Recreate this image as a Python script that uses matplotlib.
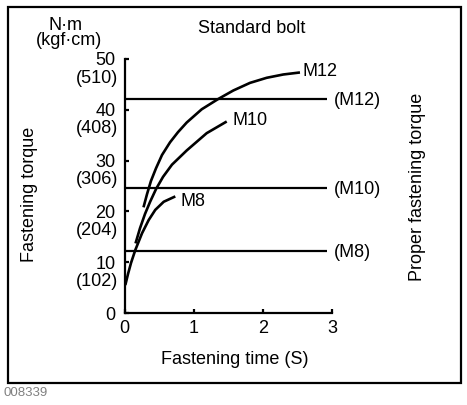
import matplotlib
matplotlib.use("Agg")
import matplotlib.pyplot as plt
from matplotlib.patches import Rectangle

plt.rcParams['font.family'] = ['Liberation Sans', 'DejaVu Sans']

# ---- data ----
m12_t = [0.274, 0.325, 0.382, 0.455, 0.541, 0.657, 0.772, 0.898, 1.114, 1.349, 1.570, 1.811, 2.052, 2.291, 2.532]
m12_v = [20.8, 23.4, 26.0, 28.5, 31.1, 33.6, 35.6, 37.5, 40.1, 42.1, 43.8, 45.3, 46.3, 46.95, 47.35]
m10_t = [0.159, 0.224, 0.296, 0.368, 0.455, 0.556, 0.685, 0.898, 1.186, 1.475]
m10_v = [13.7, 16.7, 19.5, 21.85, 24.4, 26.8, 29.2, 32.0, 35.4, 37.7]
m8_t = [0.012, 0.051, 0.094, 0.156, 0.253, 0.349, 0.444, 0.566, 0.733]
m8_v = [5.5, 7.7, 9.85, 12.4, 15.7, 18.3, 20.3, 21.9, 22.95]
curve_names = ["M12", "M10", "M8"]

proper_names = ["(M12)", "(M10)", "(M8)"]
proper_values = [42.1, 24.7, 12.3]
proper_end = 2.92

y_ticks = [0, 10, 20, 30, 40, 50]
y_labels_nm = ["0", "10", "20", "30", "40", "50"]
y_labels_kgf = ["", "(102)", "(204)", "(306)", "(408)", "(510)"]
x_ticks = [0, 1, 2, 3]
x_labels = ["0", "1", "2", "3"]

W, H = 467, 405
FS = 13

fig = plt.figure(figsize=(W / 100, H / 100), dpi=100)

def fx(px):
    return px / W

def fy(py):
    return 1 - py / H

ax = fig.add_axes([fx(124.5), fy(313), 3 * 69.3 / W, (313 - 59) / H])
ax.set_xlim(0, 3)
ax.set_ylim(0, 50)
for s in ["top", "right"]:
    ax.spines[s].set_visible(False)
for s in ["left", "bottom"]:
    ax.spines[s].set_linewidth(1.6)
    ax.spines[s].set_color("black")

ax.set_xticks(x_ticks)
ax.set_xticklabels(x_labels, fontsize=FS)
ax.set_yticks(y_ticks)
ax.set_yticklabels(y_labels_nm, fontsize=FS)
ax.tick_params(axis="both", direction="in", length=3, width=1.6, color="black")
ax.tick_params(axis="x", pad=5)
ax.tick_params(axis="y", pad=6.5)

for v, lab in zip(y_ticks, y_labels_kgf):
    if lab:
        ax.annotate(lab, xy=(0, v), xytext=(-4.5, -13.7), textcoords="offset points",
                    ha="right", va="center", fontsize=FS, annotation_clip=False)

curves = [(m12_t, m12_v), (m10_t, m10_v), (m8_t, m8_v)]
label_offsets = [(2, 0.5), (4, 0.5), (3.5, -3.5)]
for (t, v), name, off in zip(curves, curve_names, label_offsets):
    ax.plot(t, v, color="black", lw=1.9, solid_capstyle="butt", solid_joinstyle="round", clip_on=False)
    ax.annotate(name, xy=(t[-1], v[-1]), xytext=off, textcoords="offset points",
                ha="left", va="center", fontsize=FS, annotation_clip=False)

for name, val in zip(proper_names, proper_values):
    ax.plot([0, proper_end], [val, val], color="black", lw=1.6, solid_capstyle="butt", clip_on=False)
    ax.annotate(name, xy=(proper_end, val), xytext=(5, -1.2), textcoords="offset points",
                ha="left", va="center", fontsize=FS, annotation_clip=False)

fig.text(fx(66), fy(25), "N·m", ha="center", va="center", fontsize=FS)
fig.text(fx(69), fy(40.5), "(kgf·cm)", ha="center", va="center", fontsize=FS)
fig.text(fx(252), fy(28.5), "Standard bolt", ha="center", va="center", fontsize=FS)
fig.text(fx(29), fy(194), "Fastening torque", ha="center", va="center", rotation=90, fontsize=FS)
fig.text(fx(235), fy(360), "Fastening time (S)", ha="center", va="center", fontsize=FS)
fig.text(fx(418), fy(187), "Proper fastening torque", ha="center", va="center", rotation=90, fontsize=FS)
fig.text(fx(3), fy(393), "008339", ha="left", va="center", fontsize=9.5, color="#808080")

fig.patches.append(Rectangle((fx(8), fy(383)), fx(461) - fx(8), fy(7) - fy(383),
                             transform=fig.transFigure, fill=False, lw=1.6, edgecolor="black"))

fig.savefig("out.png", dpi=100)
